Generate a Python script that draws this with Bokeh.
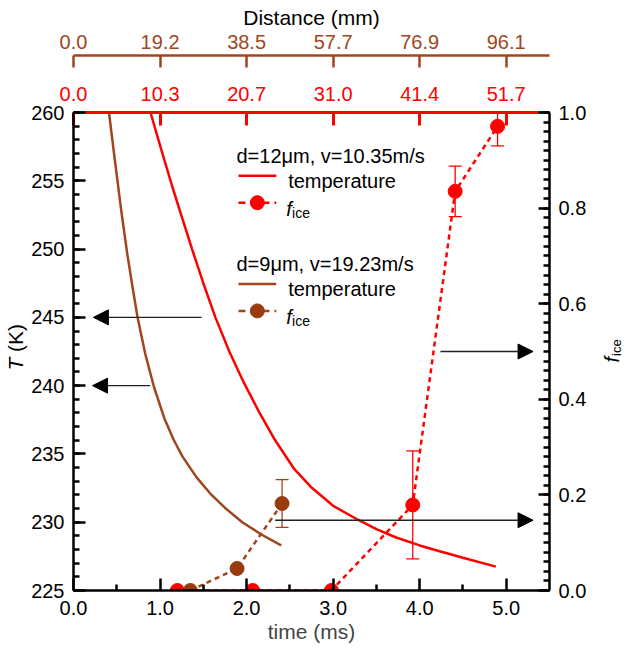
import numpy as np
from math import pi
from bokeh.plotting import figure
from bokeh.models import (Range1d, LinearAxis, FixedTicker, Label, Arrow, NormalHead,
                          Whisker, TeeHead, ColumnDataSource, NumeralTickFormatter)
from bokeh.embed import file_html
from bokeh.resources import INLINE

# ---------------- data ----------------
time_ticks = [0, 1, 2, 3, 4, 5]
time_labels = ["0.0", "1.0", "2.0", "3.0", "4.0", "5.0"]
dist_red_labels = ["0.0", "10.3", "20.7", "31.0", "41.4", "51.7"]
dist_brown_labels = ["0.0", "19.2", "38.5", "57.7", "76.9", "96.1"]
T_ticks = [225, 230, 235, 240, 245, 250, 255, 260]
f_ticks = [0.0, 0.2, 0.4, 0.6, 0.8, 1.0]

# temperature, d=12um (red)
t_red_T = [0.89, 1.00, 1.14, 1.26, 1.37, 1.50, 1.64, 1.80, 1.97, 2.15, 2.33,
           2.55, 2.74, 3.00, 3.28, 3.50, 3.72, 4.00, 4.19, 4.50, 4.88]
T_red = [260.0, 257.6, 254.6, 252.2, 250.0, 247.5, 245.0, 242.5, 240.2, 238.0, 236.0,
         233.9, 232.6, 231.2, 230.2, 229.5, 228.9, 228.3, 227.95, 227.4, 226.75]
# temperature, d=9um (brown)
t_brown_T = [0.41, 0.48, 0.55, 0.62, 0.68, 0.74, 0.83, 0.93, 1.05, 1.16, 1.26, 1.42,
             1.58, 1.76, 1.95, 2.17, 2.40]
T_brown = [260.0, 256.4, 252.9, 249.7, 247.3, 245.0, 242.3, 239.9, 237.6, 236.0, 234.8, 233.3,
           232.1, 231.0, 230.0, 229.1, 228.3]

# ice fraction
t_red_f = [1.20, 2.07, 2.98, 3.92, 4.41, 4.90]
f_red = [0.0, 0.0, 0.0, 0.179, 0.835, 0.971]
f_red_err = [0.0, 0.0, 0.0, 0.113, 0.053, 0.041]
t_brown_f = [1.35, 1.89, 2.41]
f_brown = [0.0, 0.046, 0.182]
f_brown_err = [0.0, 0.0, 0.05]

# arrows (time start, time end, level)
arrL_T = [245, 240]
arrL_x0 = [1.48, 0.885]
arrL_x1 = [0.23, 0.22]
arrR_f = [0.5, 0.147]
arrR_x0 = [4.24, 2.33]
arrR_x1 = [5.31, 5.31]

# ---------------- styling / layout ----------------
RED = "#FF0000"
BROWN = "#A0461E"
BROWN_DOT = "#983C10"
FONT = "Liberation Sans"
W, H = 626, 646
FL, FR, FT, FB = 73, 552, 112, 590   # frame in canvas px
OFF = 8  # page margin
XMIN, XMAX = 0.0, 5.5
TMIN, TMAX = 225.0, 260.0


def X(px):
    return XMIN + (px - OFF - FL) / (FR - FL) * (XMAX - XMIN)


def YT(py):
    return TMIN + (FB - (py - OFF)) / (FB - FT) * (TMAX - TMIN)


p = figure(width=W, height=H, x_range=Range1d(XMIN, XMAX), y_range=Range1d(TMIN, TMAX),
           output_backend="svg", toolbar_location=None,
           x_axis_location=None, y_axis_location=None,
           min_border_left=FL, min_border_right=W - FR, min_border_top=FT, min_border_bottom=H - FB)
p.extra_y_ranges = {"f": Range1d(0, 1)}
p.outline_line_color = None
p.grid.visible = False
p.background_fill_color = "white"
p.border_fill_color = "white"


def style(ax, color, lw, tin, minor_in, fs="20px"):
    ax.axis_line_color = color
    ax.axis_line_width = lw
    ax.major_tick_line_color = color
    ax.major_tick_line_width = lw
    ax.major_tick_in = tin
    ax.major_tick_out = 0
    if minor_in:
        ax.minor_tick_line_color = color
        ax.minor_tick_line_width = lw
        ax.minor_tick_in = minor_in
        ax.minor_tick_out = 0
    else:
        ax.minor_tick_line_color = None
    ax.major_label_text_color = color
    ax.major_label_text_font = FONT
    ax.major_label_text_font_size = fs


def mklabel(px, py, text, size="20px", color="black", style="normal", angle=0.0, align="left"):
    return Label(x=X(px), y=YT(py), text=text, text_font=FONT, text_font_size=size,
                 text_color=color, text_font_style=style, angle=angle,
                 text_align=align, text_baseline="alphabetic")


# bottom axis
bx = LinearAxis(ticker=FixedTicker(ticks=time_ticks, minor_ticks=list(np.arange(0.5, 5.5, 1.0))),
                major_label_overrides=dict(zip(time_ticks, time_labels)))
style(bx, "black", 2.5, 12, 6)
bx.major_label_standoff = 10
bx.axis_label = "time (ms)"
bx.axis_label_text_font = FONT
bx.axis_label_text_font_size = "21px"
bx.axis_label_text_font_style = "normal"
bx.axis_label_standoff = 2
p.add_layout(bx, "below")

# left axis + italic T (label in a side panel so it is not clipped to the frame)
ly = LinearAxis(ticker=FixedTicker(ticks=T_ticks, minor_ticks=list(range(225, 261))))
style(ly, "black", 2.5, 12, 6)
ly.major_label_standoff = 9
p.add_layout(ly, "left")
p.add_layout(mklabel(23, 378, "T", size="21px", style="italic", angle=pi / 2), "left")

# right axis + f_ice title
ry = LinearAxis(y_range_name="f", ticker=FixedTicker(ticks=f_ticks, minor_ticks=list(np.round(np.arange(0, 1.0001, 0.02), 2))),
                formatter=NumeralTickFormatter(format="0.0"))
style(ry, "black", 2.5, 11, 6)
ry.major_label_standoff = 9
p.add_layout(ry, "right")
p.add_layout(mklabel(623, 370, "f", size="20px", style="italic", angle=pi / 2), "right")
p.add_layout(mklabel(627.5, 363.5, "ice", size="13px", angle=pi / 2), "right")

# top red distance axis (inner)
tr = LinearAxis(ticker=FixedTicker(ticks=time_ticks),
                major_label_overrides=dict(zip(time_ticks, dist_red_labels)))
style(tr, RED, 3, 13, 0)
tr.major_label_standoff = 12
p.add_layout(tr, "above")
# "(K)" of the T title sits in the top panel (it also makes the gap between both top axes)
p.add_layout(mklabel(23, 359.4, "(K)", size="21px", angle=pi / 2), "above")

# top brown distance axis (outer)
tb = LinearAxis(ticker=FixedTicker(ticks=time_ticks),
                major_label_overrides=dict(zip(time_ticks, dist_brown_labels)))
style(tb, BROWN, 2.5, 12, 0)
tb.major_label_standoff = 7
tb.axis_label = "Distance (mm)"
tb.axis_label_text_font = FONT
tb.axis_label_text_font_size = "21px"
tb.axis_label_text_font_style = "normal"
tb.axis_label_text_color = "black"
tb.axis_label_standoff = 3
p.add_layout(tb, "above")

# ---------------- data marks ----------------
p.line(t_red_T, T_red, line_color=RED, line_width=2.5)
p.line(t_brown_T, T_brown, line_color=BROWN, line_width=2.5)

p.line(t_red_f, f_red, y_range_name="f", line_color=RED, line_width=2.5, line_dash="5 4")
p.line(t_brown_f, f_brown, y_range_name="f", line_color=BROWN, line_width=2.5, line_dash="5 4")


def whisk(ts, fs, es, color):
    base = [t for t, e in zip(ts, es) if e > 0]
    up = [f + e for f, e in zip(fs, es) if e > 0]
    lo = [f - e for f, e in zip(fs, es) if e > 0]
    src = ColumnDataSource(dict(base=base, upper=up, lower=lo))
    w = Whisker(base="base", upper="upper", lower="lower", source=src, y_range_name="f",
                line_color=color, line_width=1.3,
                upper_head=TeeHead(size=13, line_color=color, line_width=1.3),
                lower_head=TeeHead(size=13, line_color=color, line_width=1.3))
    p.add_layout(w)


whisk(t_red_f, f_red, f_red_err, RED)
whisk(t_brown_f, f_brown, f_brown_err, BROWN)

p.scatter(t_red_f, f_red, y_range_name="f", size=14, fill_color=RED, line_color=RED)
p.scatter(t_brown_f, f_brown, y_range_name="f", size=14, fill_color=BROWN_DOT, line_color=BROWN_DOT)

for y, x0, x1 in zip(arrL_T, arrL_x0, arrL_x1):
    p.add_layout(Arrow(x_start=x0, y_start=y, x_end=x1, y_end=y, line_color="#222222", line_width=1.3,
                       end=NormalHead(size=15, fill_color="black", line_color="black", line_width=1)))
for y, x0, x1 in zip(arrR_f, arrR_x0, arrR_x1):
    p.add_layout(Arrow(x_start=x0, y_start=y, x_end=x1, y_end=y, y_range_name="f",
                       line_color="#222222", line_width=1.3,
                       end=NormalHead(size=15, fill_color="black", line_color="black", line_width=1)))

# ---------------- legend (drawn by hand) ----------------
groups = [("d=12\u03bcm, v=10.35m/s", RED, RED, 163.5),
          ("d=9\u03bcm, v=19.23m/s", BROWN, BROWN_DOT, 271.7)]
for hdr, col, dcol, b in groups:
    p.add_layout(mklabel(245, b, hdr))
    p.line([X(247), X(285)], [YT(b + 19.7)] * 2, line_color=col, line_width=2.5)
    p.add_layout(mklabel(297, b + 25, "temperature"))
    p.line([X(247), X(285)], [YT(b + 46.7)] * 2, line_color=col, line_width=2.5, line_dash="7 5")
    p.scatter([X(266)], [YT(b + 46.7)], size=14, fill_color=dcol, line_color=dcol)
    p.add_layout(mklabel(295, b + 52.5, "f", style="italic"))
    p.add_layout(mklabel(301, b + 56.5, "ice", size="14px"))

open("out.html", "w").write(file_html(p, INLINE))
